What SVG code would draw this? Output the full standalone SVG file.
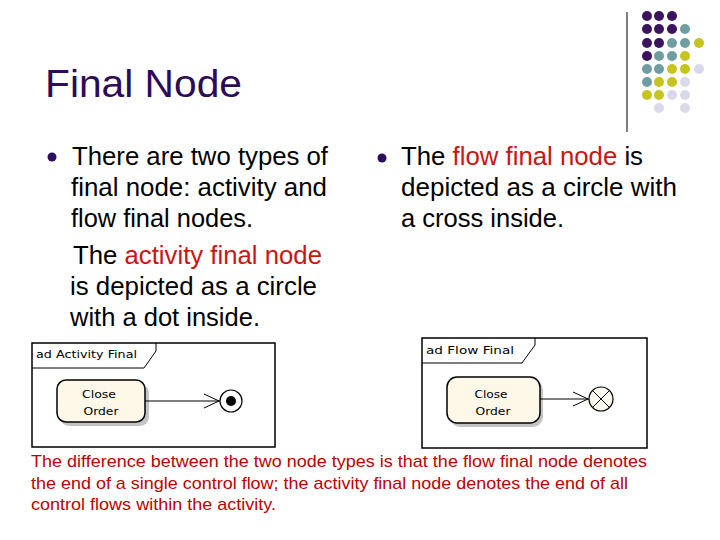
<svg xmlns="http://www.w3.org/2000/svg" width="720" height="540" viewBox="0 0 720 540">
<style>
.title{font-family:"Liberation Sans",Arial,sans-serif;font-size:38px;fill:#2d0b5a}
.body{font-family:"Liberation Sans",Arial,sans-serif;font-size:25px;fill:#000}
.red{fill:#cc1414}
.note{font-family:"Liberation Sans",Arial,sans-serif;font-size:17px;fill:#c00000}
.lbl{font-family:"DejaVu Sans","Liberation Sans",sans-serif;font-size:11px;fill:#000}
.frame{fill:#fff;stroke:#000;stroke-width:1.5}
.tab{fill:none;stroke:#000;stroke-width:1}
.act{fill:#fdf8e8;stroke:#000;stroke-width:1.5}
.shadow{fill:#c4c4c4}
.conn{fill:none;stroke:#000;stroke-width:1}
.p{fill:#3b135f}.t{fill:#6f9ea0}.y{fill:#c6c41e}.l{fill:#d9d9ea}
</style>
<rect width="720" height="540" fill="#fff"/>
<g id="decoration">
<line x1="627" y1="12" x2="627" y2="132" stroke="#000" stroke-width="1"/>
<g>
<circle class="p" cx="647" cy="16" r="5"/><circle class="p" cx="659" cy="16" r="5"/><circle class="p" cx="672" cy="16" r="5"/>
<circle class="p" cx="647" cy="29" r="5"/><circle class="p" cx="659" cy="29" r="5"/><circle class="p" cx="672" cy="29" r="5"/><circle class="t" cx="685" cy="29" r="5"/>
<circle class="p" cx="647" cy="43" r="5"/><circle class="p" cx="659" cy="43" r="5"/><circle class="t" cx="672" cy="43" r="5"/><circle class="t" cx="685" cy="43" r="5"/><circle class="y" cx="699" cy="43" r="5"/>
<circle class="p" cx="647" cy="56" r="5"/><circle class="t" cx="659" cy="56" r="5"/><circle class="t" cx="672" cy="56" r="5"/><circle class="y" cx="685" cy="56" r="5"/>
<circle class="t" cx="647" cy="69" r="5"/><circle class="t" cx="659" cy="69" r="5"/><circle class="y" cx="672" cy="69" r="5"/><circle class="y" cx="685" cy="69" r="5"/><circle class="l" cx="699" cy="69" r="5"/>
<circle class="t" cx="647" cy="82" r="5"/><circle class="y" cx="659" cy="82" r="5"/><circle class="y" cx="672" cy="82" r="5"/><circle class="l" cx="685" cy="82" r="5"/>
<circle class="y" cx="647" cy="95" r="5"/><circle class="y" cx="659" cy="95" r="5"/><circle class="l" cx="672" cy="95" r="5"/><circle class="l" cx="685" cy="95" r="5"/>
<circle class="l" cx="659" cy="108" r="5"/><circle class="l" cx="685" cy="108" r="5"/>
</g>
</g>
<g id="title"><text class="title" x="45" y="97" textLength="197" lengthAdjust="spacingAndGlyphs">Final Node</text></g>
<g id="left-text">
<circle cx="52" cy="157" r="4.5" fill="#2b0f5e"/>
<text class="body" x="72" y="165" textLength="256" lengthAdjust="spacingAndGlyphs">There are two types of</text>
<text class="body" x="71" y="196" textLength="256" lengthAdjust="spacingAndGlyphs">final node: activity and</text>
<text class="body" x="71" y="227" textLength="182" lengthAdjust="spacingAndGlyphs">flow final nodes.</text>
<text class="body" x="73" y="264" textLength="249" lengthAdjust="spacingAndGlyphs">The <tspan class="red">activity final node</tspan></text>
<text class="body" x="70" y="295" textLength="247" lengthAdjust="spacingAndGlyphs">is depicted as a circle</text>
<text class="body" x="70" y="326" textLength="190" lengthAdjust="spacingAndGlyphs">with a dot inside.</text>
</g>
<g id="right-text">
<circle cx="382" cy="158" r="4.5" fill="#2b0f5e"/>
<text class="body" x="401" y="165" textLength="242" lengthAdjust="spacingAndGlyphs">The <tspan class="red">flow final node</tspan> is</text>
<text class="body" x="401" y="196" textLength="276" lengthAdjust="spacingAndGlyphs">depicted as a circle with</text>
<text class="body" x="401" y="227" textLength="163" lengthAdjust="spacingAndGlyphs">a cross inside.</text>
</g>
<g id="frame-activity">
<rect class="frame" x="32" y="343" width="243" height="104"/>
<path class="tab" d="M32 368 H144 L156 351 V343"/>
<text class="lbl" x="36" y="358" textLength="101" lengthAdjust="spacingAndGlyphs">ad Activity Final</text>
</g>
<g id="node-close-order-1">
<rect class="shadow" x="60" y="384" width="89" height="42" rx="9"/>
<rect class="act" x="57" y="380" width="88" height="42" rx="9"/>
<text class="lbl" x="99" y="398" text-anchor="middle" textLength="34" lengthAdjust="spacingAndGlyphs">Close</text>
<text class="lbl" x="101" y="415" text-anchor="middle" textLength="35" lengthAdjust="spacingAndGlyphs">Order</text>
</g>
<g id="final-activity">
<circle cx="231" cy="401" r="11" fill="#fff" stroke="#000" stroke-width="1.2"/>
<circle cx="231" cy="401" r="5" fill="#000"/>
</g>
<g id="frame-flow">
<rect class="frame" x="422" y="338" width="225" height="110"/>
<path class="tab" d="M422 363 H522 L535 345 V338"/>
<text class="lbl" x="426" y="354" textLength="88" lengthAdjust="spacingAndGlyphs">ad Flow Final</text>
</g>
<g id="node-close-order-2">
<rect class="shadow" x="450" y="380" width="93" height="47" rx="10"/>
<rect class="act" x="447" y="377" width="93" height="46" rx="10"/>
<text class="lbl" x="491" y="398" text-anchor="middle" textLength="33" lengthAdjust="spacingAndGlyphs">Close</text>
<text class="lbl" x="493" y="415" text-anchor="middle" textLength="35" lengthAdjust="spacingAndGlyphs">Order</text>
</g>
<g id="final-flow">
<circle cx="601" cy="399" r="12" fill="#fdfaf0" stroke="#000" stroke-width="1.2"/>
<line x1="592.5" y1="390.5" x2="609.5" y2="407.5" stroke="#000" stroke-width="1"/>
<line x1="609.5" y1="390.5" x2="592.5" y2="407.5" stroke="#000" stroke-width="1"/>
</g>
<g id="connectors">
<line class="conn" x1="145" y1="401" x2="220" y2="401"/>
<polyline class="conn" points="204,394 219,401 204,408"/>
<line class="conn" x1="540" y1="399" x2="589" y2="399"/>
<polyline class="conn" points="573,392 588,399 573,406"/>
</g>
<g id="note">
<text class="note" x="31" y="467" textLength="616" lengthAdjust="spacingAndGlyphs">The difference between the two node types is that the flow final node denotes</text>
<text class="note" x="31" y="489" textLength="597" lengthAdjust="spacingAndGlyphs">the end of a single control flow; the activity final node denotes the end of all</text>
<text class="note" x="31" y="510" textLength="245" lengthAdjust="spacingAndGlyphs">control flows within the activity.</text>
</g>
</svg>
